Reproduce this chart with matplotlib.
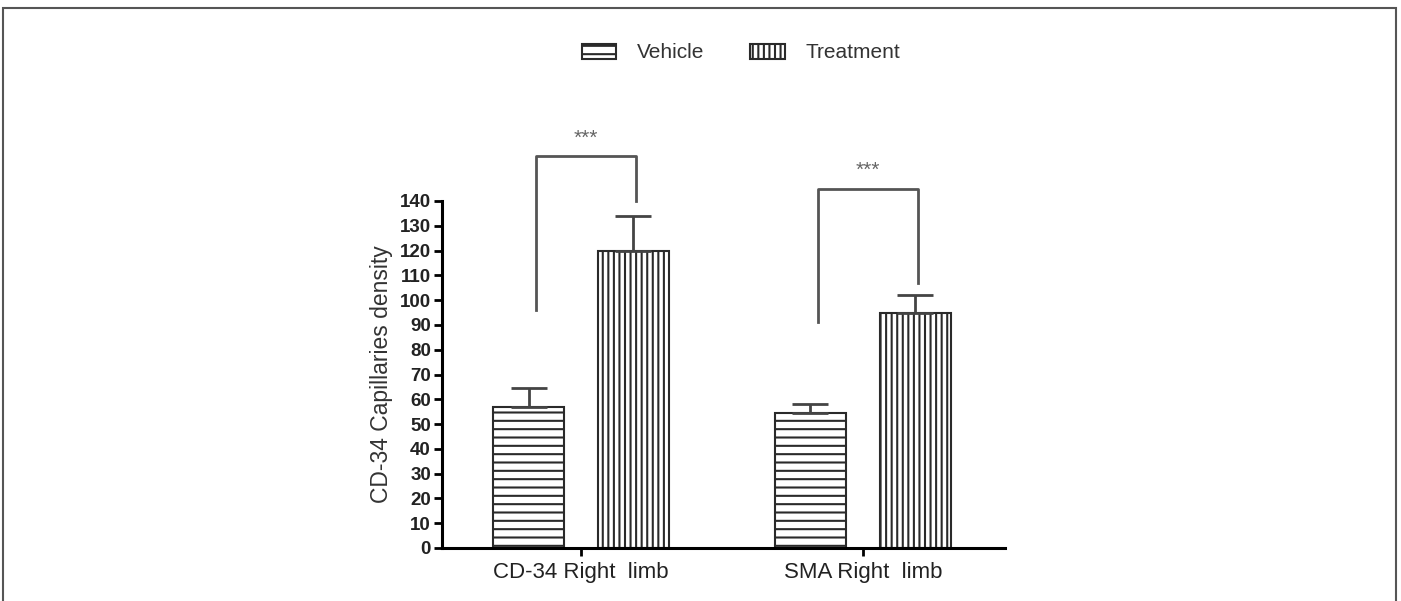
import matplotlib.pyplot as plt
import numpy as np
from matplotlib.patches import Rectangle

plt.rcParams['font.family'] = ['Liberation Sans', 'DejaVu Sans']
plt.rcParams['hatch.linewidth'] = 1.5

# data
groups = ['CD-34 Right  limb', 'SMA Right  limb']
series = ['Vehicle', 'Treatment']
vehicle = [57, 54.5]
vehicle_err = [7.5, 3.5]
treatment = [120, 95]
treatment_err = [14, 7]
sig_labels = ['***', '***']
# bracket: top, left leg bottom, right leg bottom (data units)
brackets = [(158, 96, 140), (145, 91, 107)]
yticks = list(range(0, 141, 10))

fig = plt.figure(figsize=(14.01, 6.01), dpi=100)
ax = fig.add_axes([442 / 1401, 53 / 601, (1005 - 442) / 1401, 347 / 601])

x = np.arange(len(groups))
off = 0.186
w = 0.252
edge = '#2a2a2a'

ax.bar(x - off, vehicle, w, color='white', edgecolor=edge, hatch='--',
       linewidth=1.5, label=series[0], zorder=2)
ax.bar(x + off, treatment, w, color='white', edgecolor=edge, hatch='|||',
       linewidth=1.5, label=series[1], zorder=2)

# upper error bars only
ax.errorbar(x - off, vehicle, yerr=[np.zeros(2), vehicle_err], fmt='none',
            ecolor='#444444', elinewidth=2, capsize=13, capthick=2, zorder=3)
ax.errorbar(x + off, treatment, yerr=[np.zeros(2), treatment_err], fmt='none',
            ecolor='#444444', elinewidth=2, capsize=13, capthick=2, zorder=3)

# significance brackets
for i, (top, lb, rb) in enumerate(brackets):
    xl = x[i] - off + 0.025
    xr = x[i] + off + 0.01
    ax.plot([xl, xl, xr, xr], [lb, top, top, rb], color='#555555', lw=2,
            clip_on=False)
    ax.text((xl + xr) / 2, top + 3.5, sig_labels[i], ha='center', va='bottom',
            fontsize=15, color='#666666', clip_on=False)

ax.set_xlim(-0.493, 1.504)
ax.set_ylim(0, 140)
ax.set_yticks(yticks)
ax.set_yticklabels([str(t) for t in yticks], fontsize=13.5, fontweight='bold',
                   color='#222222')
ax.set_xticks(x)
ax.set_xticklabels(groups, fontsize=16, color='#222222')
ax.tick_params(axis='y', length=6, width=2, pad=2)
ax.tick_params(axis='x', length=6, width=2, pad=4)

for s in ['top', 'right']:
    ax.spines[s].set_visible(False)
for s in ['left', 'bottom']:
    ax.spines[s].set_linewidth(2.2)

ax.set_ylabel('CD-34 Capillaries density', fontsize=16.5, color='#333333',
              labelpad=5)

fig.legend(loc='center', bbox_to_anchor=(741 / 1401, 1 - 53 / 601), ncol=2,
           frameon=False, fontsize=15, handlelength=1.65, handleheight=0.75,
           handletextpad=1.0, columnspacing=2.2, labelcolor='#333333')

# outer frame
fig.add_artist(Rectangle((3 / 1401, -0.1), 1393 / 1401, 1.1 - 8 / 601,
                         transform=fig.transFigure, fill=False,
                         edgecolor='#555555', lw=1.5))

fig.savefig('out.png', dpi=100)
